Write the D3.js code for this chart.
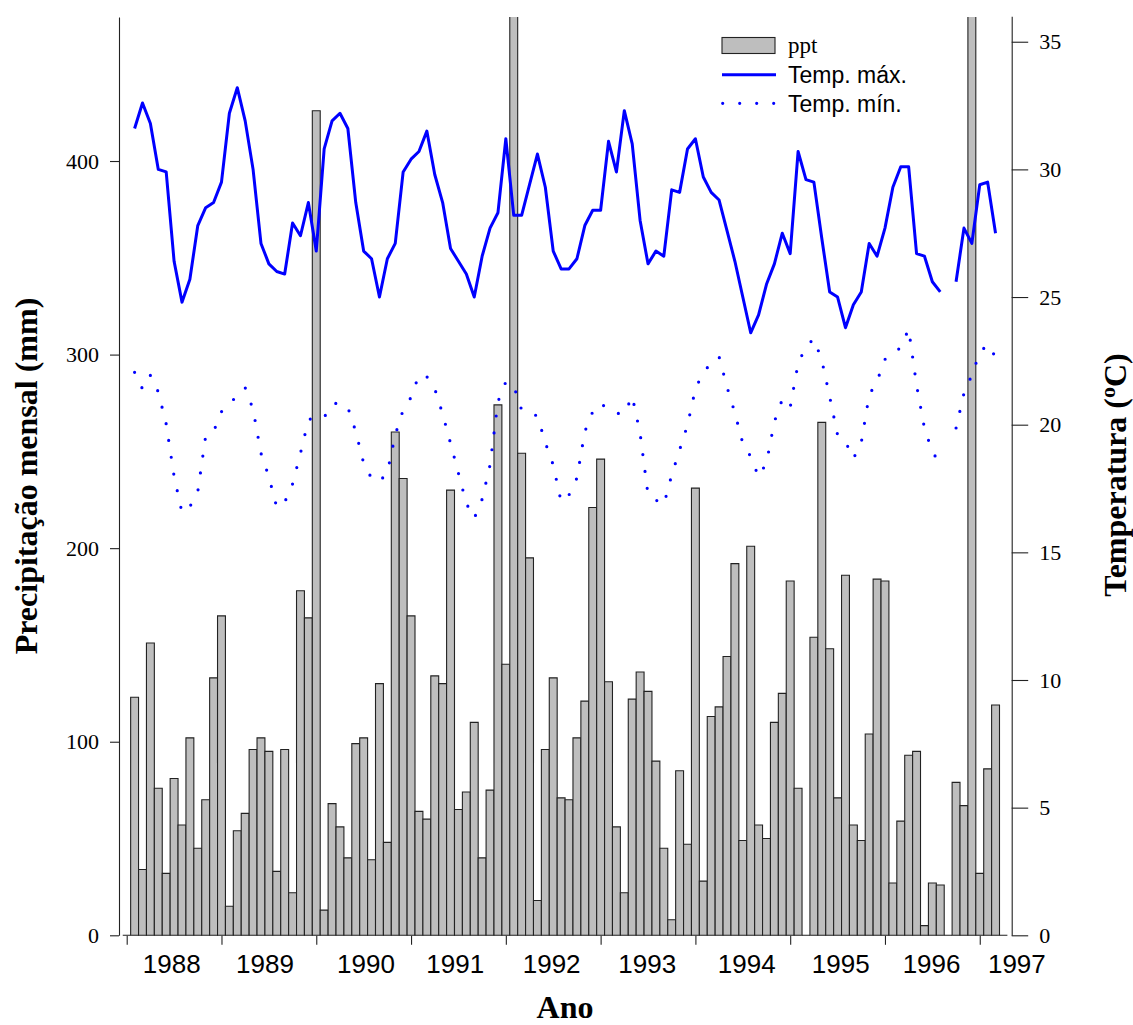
<!DOCTYPE html>
<html>
<head>
<meta charset="utf-8">
<script src="https://cdn.jsdelivr.net/npm/d3@7"></script>
<style>
  body { margin: 0; background: #fff; }
  .serif { font-family: "Liberation Serif", "Times New Roman", serif; }
  .sans { font-family: "Liberation Sans", Arial, Helvetica, sans-serif; }
</style>
</head>
<body>
<div id="chart"></div>
<script>
// monthly series, one slot per month (slot 0 and the last slot are empty)
var ppt = [
  0, 123, 34, 151, 76, 32, 81, 57, 102, 45, 70, 133,
  165, 15, 54, 63, 96, 102, 95, 33, 96, 22, 178, 164,
  426, 13, 68, 56, 40, 99, 102, 39, 130, 48, 260, 236,
  165, 64, 60, 134, 130, 230, 65, 74, 110, 40, 75, 274,
  140, 480, 249, 195, 18, 96, 133, 71, 70, 102, 121, 221,
  246, 131, 56, 22, 122, 136, 126, 90, 45, 8, 85, 47,
  231, 28, 113, 118, 144, 192, 49, 201, 57, 50, 110, 125,
  183, 76, 0, 154, 265, 148, 71, 186, 57, 49, 104, 184,
  183, 27, 59, 93, 95, 5, 27, 26, 0, 79, 67, 480,
  32, 86, 119, 0
];
var tmax = [
  null, 31.6, 32.6, 31.8, 30.0, 29.9, 26.4, 24.8, 25.7, 27.8, 28.5, 28.7,
  29.5, 32.2, 33.2, 31.9, 30.0, 27.1, 26.3, 26.0, 25.9, 27.9, 27.4, 28.7,
  26.8, 30.8, 31.9, 32.2, 31.6, 28.7, 26.8, 26.5, 25.0, 26.5, 27.1, 29.9,
  30.4, 30.7, 31.5, 29.8, 28.7, 26.9, 26.4, 25.9, 25.0, 26.6, 27.7, 28.3,
  31.2, 28.2, 28.2, 29.4, 30.6, 29.3, 26.8, 26.1, 26.1, 26.5, 27.8, 28.4,
  28.4, 31.1, 29.9, 32.3, 31.0, 28.0, 26.3, 26.8, 26.6, 29.2, 29.1, 30.8,
  31.2, 29.7, 29.1, 28.8, 27.6, 26.4, 25.0, 23.6, 24.3, 25.5, 26.3, 27.5,
  26.7, 30.7, 29.6, 29.5, 27.3, 25.2, 25.0, 23.8, 24.7, 25.2, 27.1, 26.6,
  27.7, 29.3, 30.1, 30.1, 26.7, 26.6, 25.6, 25.2, null, 25.6, 27.7, 27.1,
  29.4, 29.5, 27.5, null
];
var tmin = [
  null, 22.05, 21.4, 21.93, 21.28, 20.03, 17.98, 16.56, 16.79, 17.38, 19.56, 19.73,
  20.51, 20.84, 21.12, 21.45, 20.6, 18.88, 17.96, 16.76, 16.96, 17.68, 18.88, 20.18,
  20.34, 20.29, 20.81, 20.86, 20.68, 19.73, 18.49, 17.9, 17.77, 18.13, 19.6, 20.58,
  21.07, 21.95, 21.88, 21.41, 20.42, 19.27, 18.1, 16.92, 16.33, 17.08, 18.42, 20.9,
  21.68, 21.52, 20.58, 20.47, 20.34, 19.3, 18.42, 16.98, 17.25, 17.91, 19.73, 20.51,
  20.84, 20.6, 20.45, 20.42, 21.12, 19.66, 17.26, 17.05, 16.86, 18.03, 19.01, 19.99,
  21.4, 22.06, 22.4, 22.66, 21.48, 20.46, 19.27, 18.75, 17.96, 18.51, 20.12, 20.99,
  20.68, 22.4, 23.06, 23.37, 22.53, 21.1, 19.6, 19.34, 18.67, 19.3, 21.16, 21.71,
  22.56, 22.77, 23.03, 23.75, 21.55, 19.86, 18.94, 18.46, null, 19.87, 21.23, 21.95,
  22.82, 23.15, 22.65, null
];

var yearTicks = [0, 12, 24, 36, 48, 60, 72, 84, 96, 108];
var yearLabels = ["1988", "1989", "1990", "1991", "1992", "1993", "1994", "1995", "1996", "1997"];
var yearLabelAt = [5.7, 17.5, 30.3, 41.6, 53.8, 65.9, 78.5, 90.4, 101.9, 112.7];
var pptTicks = [0, 100, 200, 300, 400];
var tempTicks = [0, 5, 10, 15, 20, 25, 30, 35];

var width = 1133, height = 1025;
var plotLeft = 119, plotRight = 1011.7, plotTop = 17, plotBottom = 935.3;

var svg = d3.select("#chart")
    .append("svg")
    .attr("width", width)
    .attr("height", height);

var x = d3.scaleLinear()
    .domain([-0.5, ppt.length - 0.5])
    .range([122.75, 1007.4]);
var yP = d3.scaleLinear().domain([0, 474.4]).range([plotBottom, plotTop]);
var yT = d3.scaleLinear().domain([0, 36]).range([plotBottom, 16.2]);

// clip for the bars that go above the plot
svg.append("clipPath").attr("id", "plotclip")
    .append("rect")
    .attr("x", plotLeft).attr("y", plotTop)
    .attr("width", plotRight - plotLeft).attr("height", plotBottom - plotTop + 2);

// bars (paths so zero months still show as a line)
svg.append("g")
    .attr("clip-path", "url(#plotclip)")
    .selectAll("path")
    .data(ppt)
    .enter()
    .append("path")
    .attr("d", function(d, i) {
        var x0 = x(i - 0.5), x1 = x(i + 0.5);
        return "M" + x0 + "," + yP(0) + "H" + x1 + "V" + yP(d) + "H" + x0 + "Z";
    })
    .style("fill", "#bebebe")
    .style("stroke", "#222")
    .style("stroke-width", 1.1);

// temperature lines
var line = d3.line()
    .defined(d => d != null)
    .x((d, i) => x(i))
    .y(d => yT(d));

svg.append("path")
    .datum(tmax)
    .attr("d", line)
    .style("fill", "none")
    .style("stroke", "#0000ff")
    .style("stroke-width", 3)
    .style("stroke-linejoin", "round");

svg.append("path")
    .datum(tmin)
    .attr("d", line)
    .style("fill", "none")
    .style("stroke", "#0000ff")
    .style("stroke-width", 3.2)
    .style("stroke-linecap", "round")
    .style("stroke-dasharray", "0 17");

// left axis
var gl = svg.append("g")
    .attr("transform", "translate(" + plotLeft + ",0)")
    .call(d3.axisLeft(yP).tickValues(pptTicks).tickSize(9).tickSizeOuter(0).tickPadding(11));

// right axis
var gr = svg.append("g")
    .attr("transform", "translate(" + plotRight + ",0)")
    .call(d3.axisRight(yT).tickValues(tempTicks).tickSize(16.5).tickSizeOuter(0).tickPadding(11));

[gl, gr].forEach(function(g) {
    g.selectAll("path, line").style("stroke", "#222").style("stroke-width", 1.1);
    g.selectAll("text")
        .attr("class", "serif")
        .style("font-size", "22px")
        .style("fill", "#000");
});

// x ticks
var gx = svg.append("g")
    .attr("transform", "translate(0," + (plotBottom + 0.5) + ")")
    .call(d3.axisBottom(x).tickValues(yearTicks).tickFormat("").tickSize(9).tickSizeOuter(0));
gx.select(".domain").remove();
gx.selectAll("line").style("stroke", "#222").style("stroke-width", 1.1);

// year labels between ticks
svg.append("g")
    .selectAll("text")
    .data(yearLabels)
    .enter()
    .append("text")
    .attr("class", "sans")
    .attr("x", (d, i) => x(yearLabelAt[i]))
    .attr("y", 973)
    .attr("text-anchor", "middle")
    .style("font-size", "26px")
    .text(d => d);

// axis titles
svg.append("text")
    .attr("class", "serif")
    .attr("text-anchor", "middle")
    .attr("x", 565)
    .attr("y", 1018)
    .style("font-size", "32px")
    .style("font-weight", "bold")
    .text("Ano");

svg.append("text")
    .attr("class", "serif")
    .attr("text-anchor", "middle")
    .attr("transform", "translate(37,476) rotate(-90)")
    .style("font-size", "32px")
    .style("font-weight", "bold")
    .text("Precipitação mensal (mm)");

var tt = svg.append("text")
    .attr("class", "serif")
    .attr("text-anchor", "middle")
    .attr("transform", "translate(1126,475) rotate(-90)")
    .style("font-size", "32px")
    .style("font-weight", "bold");
tt.append("tspan").text("Temperatura (");
tt.append("tspan").attr("dy", -11).style("font-size", "22px").text("o");
tt.append("tspan").attr("dy", 11).text("C)");

// legend
var lg = svg.append("g");
lg.append("rect")
    .attr("x", 722).attr("y", 37.5)
    .attr("width", 53).attr("height", 16)
    .style("fill", "#bebebe")
    .style("stroke", "#222")
    .style("stroke-width", 1.1);
lg.append("line")
    .attr("x1", 722).attr("x2", 776)
    .attr("y1", 74.7).attr("y2", 74.7)
    .style("stroke", "#0000ff")
    .style("stroke-width", 3);
lg.append("line")
    .attr("x1", 722.7).attr("x2", 775)
    .attr("y1", 103.3).attr("y2", 103.3)
    .style("stroke", "#0000ff")
    .style("stroke-width", 3.2)
    .style("stroke-linecap", "round")
    .style("stroke-dasharray", "0 17");
lg.append("text")
    .attr("class", "serif")
    .attr("x", 788).attr("y", 53)
    .style("font-size", "23px")
    .text("ppt");
lg.append("text")
    .attr("class", "sans")
    .attr("x", 788).attr("y", 82.7)
    .style("font-size", "23px")
    .text("Temp. máx.");
lg.append("text")
    .attr("class", "sans")
    .attr("x", 788).attr("y", 111.7)
    .style("font-size", "23px")
    .text("Temp. mín.");
</script>
</body>
</html>
